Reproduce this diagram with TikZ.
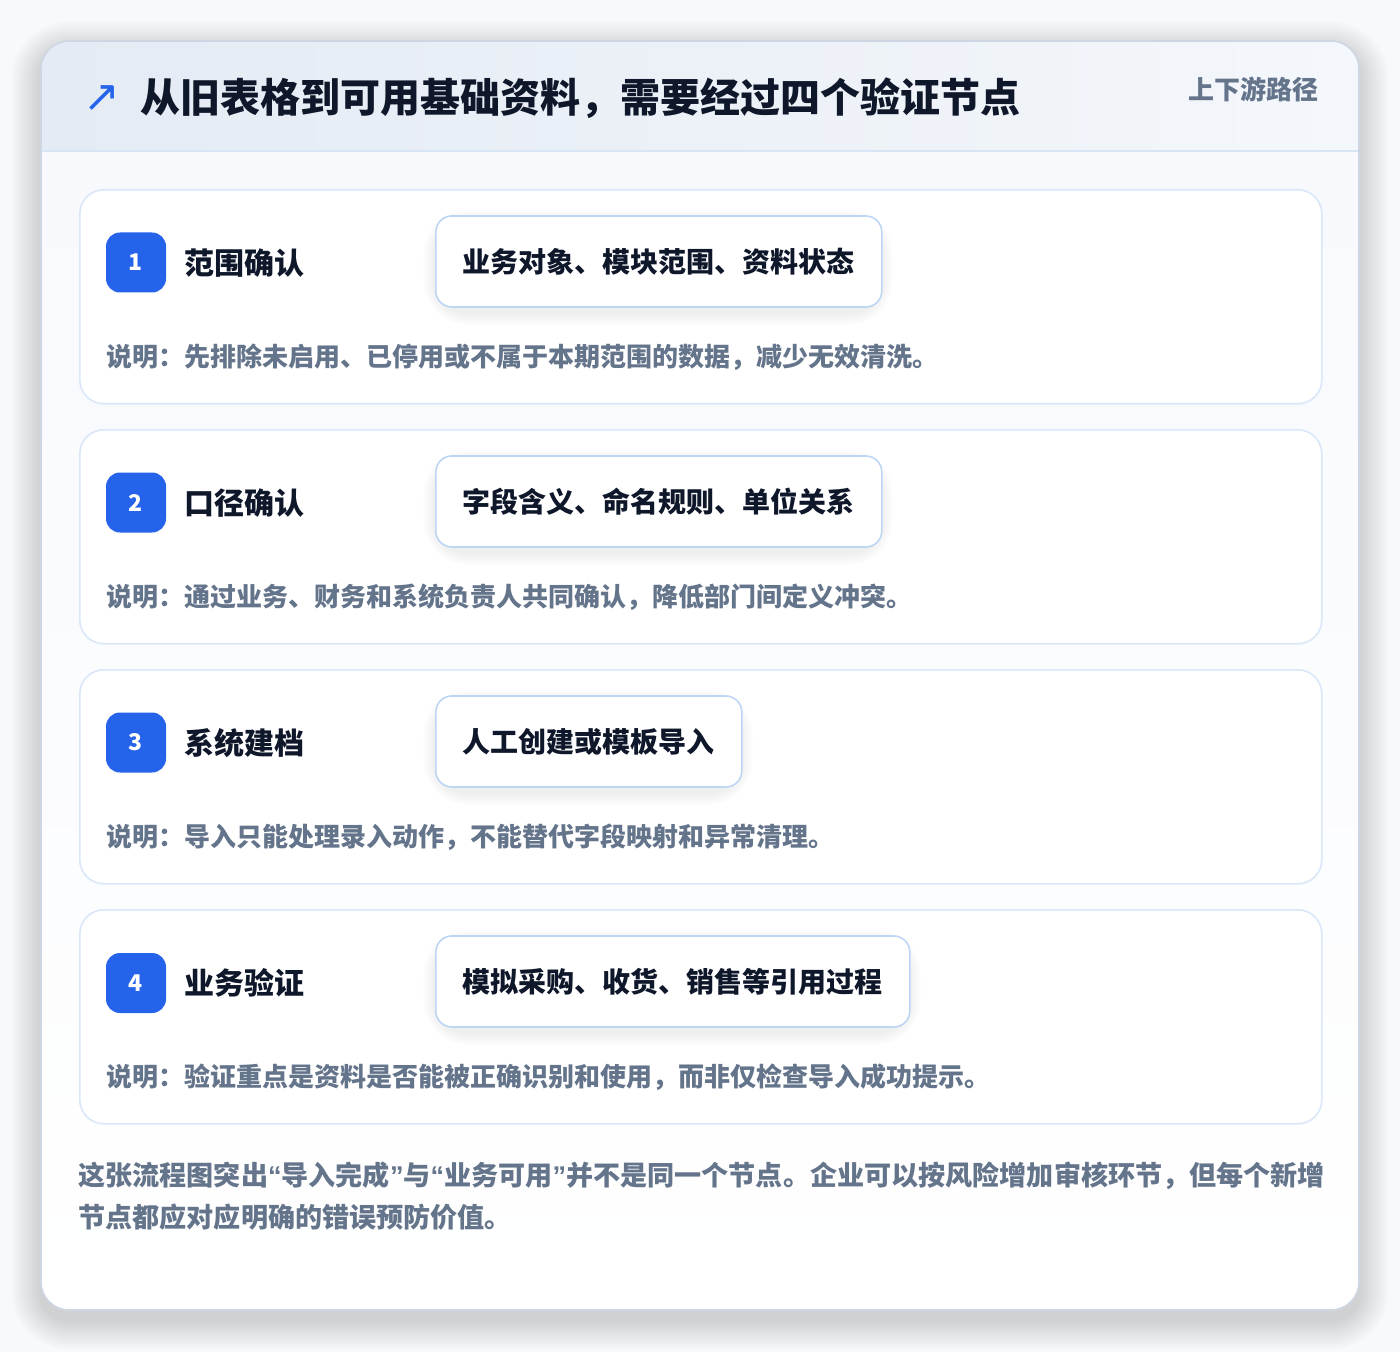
\documentclass[tikz,border=0pt]{standalone}
\usepackage{fontspec}
\setmainfont{Noto Sans CJK SC}
\newfontfamily\symfont{DejaVu Sans}
\newfontfamily\qfont{Liberation Sans}
\newcommand\oquote{{\qfont\bfseries “}}
\newcommand\cquote{{\qfont\bfseries ”}}
\definecolor{pagebg}{HTML}{F8F9FA}
\definecolor{cardborder}{HTML}{CDD6E2}
\definecolor{cardtop}{HTML}{F7F9FC}
\definecolor{headl}{HTML}{E4EBF4}
\definecolor{headr}{HTML}{F4F7FB}
\definecolor{headline}{HTML}{D8E5F4}
\definecolor{stepborder}{HTML}{DAE7F8}
\definecolor{tagborder}{HTML}{BDD6F4}
\definecolor{blue1}{HTML}{2563EB}
\definecolor{ink}{HTML}{0F172A}
\definecolor{muted}{HTML}{64748B}
\newcommand\softshadow[8]{% x1 y1 x2 y2 radius(px) layers yshift opacity
  \foreach \i in {1,...,#6}{%
    \pgfmathsetmacro\rr{(#5+\i*1.5)/2}%
    \fill[black, opacity=#8, rounded corners=\rr pt]
      (#1-\i*1.5, #2-\i*1.5+#7) rectangle (#3+\i*1.5, #4+\i*1.5+#7);
  }}
\begin{document}
\begin{tikzpicture}[x=0.5pt,y=-0.5pt,
  stepcard/.style={draw=stepborder, line width=0.8pt, fill=white, rounded corners=12pt,
    minimum width=621pt, minimum height=107pt, anchor=north west, inner sep=0pt},
  badge/.style={fill=blue1, rounded corners=7pt, minimum width=30pt, minimum height=30pt,
    inner sep=0pt, text=white, font=\bfseries\fontsize{11.5}{13}\selectfont},
  steptitle/.style={anchor=west, inner sep=0pt, text=ink, font=\bfseries\fontsize{15}{18}\selectfont},
  tagbox/.style={anchor=west, draw=tagborder, line width=0.8pt, fill=white, rounded corners=8pt,
    minimum height=45.5pt, inner xsep=13.5pt, inner ysep=0pt, text=ink,
    font=\bfseries\fontsize{14}{17}\selectfont},
  desc/.style={anchor=west, inner sep=0pt, text=muted, font=\bfseries\fontsize{13}{16}\selectfont}]
\useasboundingbox (0,0) rectangle (1400,1352);
\fill[pagebg] (0,0) rectangle (1400,1352);
% main card shadow
\softshadow{41}{41}{1359}{1310}{28}{20}{10}{0.006}
% main card
\node[anchor=north west, minimum width=659pt, minimum height=634.5pt, inner sep=0pt,
  rounded corners=14pt, fill=white] (card) at (41,41) {};
\begin{scope}
  \clip[rounded corners=14pt] (41,41) rectangle (1359,1310);
  \shade[top color=cardtop, bottom color=white] (41,151) rectangle (1359,1310);
  \shade[left color=headl, right color=headr] (41,41) rectangle (1359,151);
  \draw[headline, line width=0.8pt] (41,151) -- (1359,151);
\end{scope}
\draw[cardborder, line width=0.8pt, rounded corners=14pt] (41,41) rectangle (1359,1310);
% header
\node[text=blue1, font=\symfont\fontsize{22}{24}\selectfont, inner sep=0pt] (icon) at (102,99) {↗};
\node[anchor=west, inner sep=0pt, text=ink, font=\bfseries\fontsize{20}{24}\selectfont] (title) at (140,98)
  {从旧表格到可用基础资料，需要经过四个验证节点};
\node[anchor=west, inner sep=0pt, text=muted, font=\bfseries\fontsize{13}{16}\selectfont] (tagline) at (1188,89)
  {上下游路径};
% step 1
\node[stepcard] (card1) at (79,189) {};
\node[badge] (b1) at (136,262.5) {1};
\node[steptitle] (t1) at (184,263) {范围确认};
\softshadow{435}{216}{881}{307}{32}{8}{6}{0.009}
\node[tagbox] (g1) at (435,261.5) {业务对象、模块范围、资料状态};
\node[desc] (d1) at (106,357) {说明：先排除未启用、已停用或不属于本期范围的数据，减少无效清洗。};
% step 2
\node[stepcard] (card2) at (79,429) {};
\node[badge] (b2) at (136,502.5) {2};
\node[steptitle] (t2) at (184,503) {口径确认};
\softshadow{435}{456}{881}{547}{32}{8}{6}{0.009}
\node[tagbox] (g2) at (435,501.5) {字段含义、命名规则、单位关系};
\node[desc] (d2) at (106,597) {说明：通过业务、财务和系统负责人共同确认，降低部门间定义冲突。};
% step 3
\node[stepcard] (card3) at (79,669) {};
\node[badge] (b3) at (136,742.5) {3};
\node[steptitle] (t3) at (184,743) {系统建档};
\softshadow{435}{696}{741}{787}{32}{8}{6}{0.009}
\node[tagbox] (g3) at (435,741.5) {人工创建或模板导入};
\node[desc] (d3) at (106,837) {说明：导入只能处理录入动作，不能替代字段映射和异常清理。};
% step 4
\node[stepcard] (card4) at (79,909) {};
\node[badge] (b4) at (136,983) {4};
\node[steptitle] (t4) at (184,983) {业务验证};
\softshadow{435}{936}{909}{1027}{32}{8}{6}{0.009}
\node[tagbox] (g4) at (435,981.5) {模拟采购、收货、销售等引用过程};
\node[desc] (d4) at (106,1077) {说明：验证重点是资料是否能被正确识别和使用，而非仅检查导入成功提示。};
% footer
\node[anchor=west, inner sep=0pt, align=left, text=muted, font=\bfseries\fontsize{13.55}{21}\selectfont] (foot) at (78,1196)
  {这张流程图突出\oquote 导入完成\cquote 与\oquote 业务可用\cquote 并不是同一个节点。企业可以按风险增加审核环节，但每个新增\\
   节点都应对应明确的错误预防价值。};
\end{tikzpicture}
\end{document}
